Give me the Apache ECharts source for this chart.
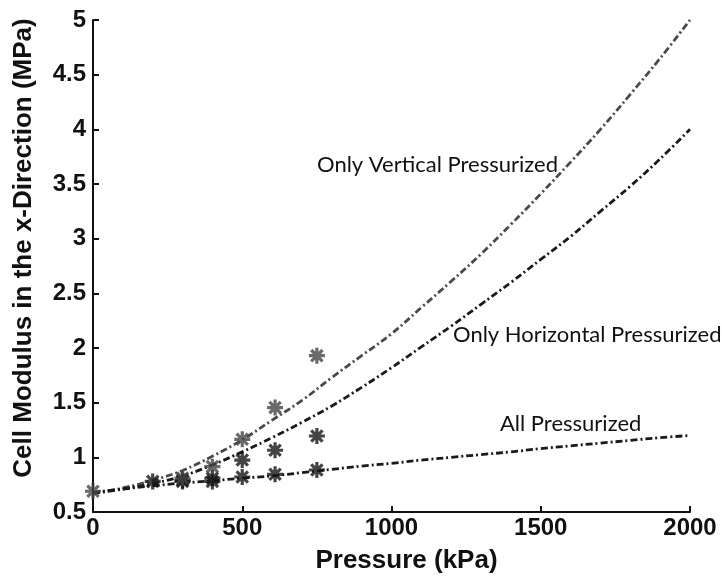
<!DOCTYPE html>
<html>
<head>
<meta charset="utf-8">
<script src="https://cdn.jsdelivr.net/npm/echarts@6/dist/echarts.min.js"></script>
<style>
html,body{margin:0;padding:0;background:#fff;}
#chart{width:722px;height:580px;}
</style>
</head>
<body>
<div id="chart"></div>
<script>
// Model curves
const curveX = [0, 100, 200, 300, 400, 500, 600, 700, 800, 900, 1000, 1100, 1200, 1300, 1400, 1500, 1600, 1700, 1800, 1900, 2000];
const verticalCurve   = [0.67, 0.72, 0.79, 0.88, 1.01, 1.16, 1.34, 1.52, 1.73, 1.93, 2.13, 2.37, 2.61, 2.86, 3.13, 3.41, 3.70, 4.00, 4.32, 4.65, 5.00];
const horizontalCurve = [0.67, 0.71, 0.76, 0.83, 0.93, 1.05, 1.18, 1.32, 1.47, 1.64, 1.82, 2.01, 2.20, 2.40, 2.60, 2.81, 3.02, 3.25, 3.48, 3.73, 4.00];
const allCurve        = [0.68, 0.71, 0.74, 0.765, 0.785, 0.81, 0.83, 0.86, 0.89, 0.92, 0.945, 0.975, 1.00, 1.025, 1.05, 1.08, 1.105, 1.13, 1.155, 1.18, 1.20];

// Measured points (stars)
const vertPtsX = [0, 300, 400, 500, 610, 750];
const vertPtsY = [0.69, 0.81, 0.915, 1.165, 1.455, 1.93];
const horizPtsX = [300, 400, 500, 610, 750];
const horizPtsY = [0.79, 0.81, 0.975, 1.065, 1.195];
const allPtsX = [200, 300, 400, 500, 610, 750];
const allPtsY = [0.78, 0.78, 0.78, 0.82, 0.845, 0.884];

const xTicks = [0, 500, 1000, 1500, 2000];
const yTicks = [0.5, 1, 1.5, 2, 2.5, 3, 3.5, 4, 4.5, 5];

const annotations = ['Only Vertical Pressurized', 'Only Horizontal Pressurized', 'All Pressurized'];

function zip(xs, ys) { return xs.map((x, i) => [x, ys[i]]); }

const star = 'path://M-10,-2L10,-2L10,2L-10,2Z' +
  'M-2,10L-2,-10L2,-10L2,10Z' +
  'M8.49,5.66L5.66,8.49L-8.49,-5.66L-5.66,-8.49Z' +
  'M5.66,-8.49L8.49,-5.66L-5.66,8.49L-8.49,5.66Z';

const dashDot = [7, 3, 2, 3];
const tickFont = {fontFamily: 'Liberation Sans', fontWeight: 'bold', fontSize: 24, color: '#111'};

const chart = echarts.init(document.getElementById('chart'), null, {renderer: 'canvas'});
chart.setOption({
  animation: false,
  backgroundColor: '#fff',
  grid: {left: 93, right: 32, top: 20, bottom: 68},
  xAxis: {
    type: 'value', min: xTicks[0], max: xTicks[xTicks.length - 1], interval: 500,
    name: 'Pressure (kPa)', nameLocation: 'middle', nameGap: 36,
    nameTextStyle: {fontFamily: 'Liberation Sans', fontWeight: 'bold', fontSize: 26, color: '#111', padding: [0, 0, 0, 30]},
    axisLine: {lineStyle: {color: '#111', width: 2}},
    axisTick: {inside: true, length: 6, lineStyle: {color: '#111', width: 2}},
    axisLabel: Object.assign({margin: 4, formatter: v => String(v)}, tickFont),
    splitLine: {show: false}
  },
  yAxis: {
    type: 'value', min: yTicks[0], max: yTicks[yTicks.length - 1], interval: 0.5,
    name: 'Cell Modulus in the x-Direction (MPa)', nameLocation: 'middle', nameGap: 56,
    nameTextStyle: {fontFamily: 'Liberation Sans', fontWeight: 'bold', fontSize: 26, color: '#111', padding: [0, 0, 0, 36]},
    axisLine: {show: true, lineStyle: {color: '#111', width: 2}},
    axisTick: {show: true, inside: true, length: 6, lineStyle: {color: '#111', width: 2}},
    axisLabel: Object.assign({margin: 7, formatter: v => String(v)}, tickFont),
    splitLine: {show: false}
  },
  series: [
    {type: 'line', data: zip(curveX, verticalCurve), smooth: 0.4, showSymbol: false,
     lineStyle: {color: '#4a4a4a', width: 2.8, type: dashDot}},
    {type: 'line', data: zip(curveX, horizontalCurve), smooth: 0.4, showSymbol: false,
     lineStyle: {color: '#1a1a1a', width: 2.8, type: dashDot}},
    {type: 'line', data: zip(curveX, allCurve), smooth: 0.4, showSymbol: false,
     lineStyle: {color: '#1a1a1a', width: 2.8, type: dashDot}},
    {type: 'scatter', data: zip(allPtsX, allPtsY), symbol: star, symbolSize: 16,
     itemStyle: {color: '#151515'}, z: 5},
    {type: 'scatter', data: zip(horizPtsX, horizPtsY), symbol: star, symbolSize: 16,
     itemStyle: {color: '#151515'}, z: 5},
    {type: 'scatter', data: zip(vertPtsX, vertPtsY), symbol: star, symbolSize: 16,
     itemStyle: {color: '#454545'}, z: 6}
  ],
  graphic: [
    {type: 'text', left: 317, top: 154, style: {text: annotations[0], font: '22px Lato', fill: '#111'}},
    {type: 'text', left: 453, top: 324, style: {text: annotations[1], font: '22px Lato', fill: '#111'}},
    {type: 'text', left: 500, top: 413, style: {text: annotations[2], font: '22px Lato', fill: '#111'}}
  ]
});
</script>
</body>
</html>
